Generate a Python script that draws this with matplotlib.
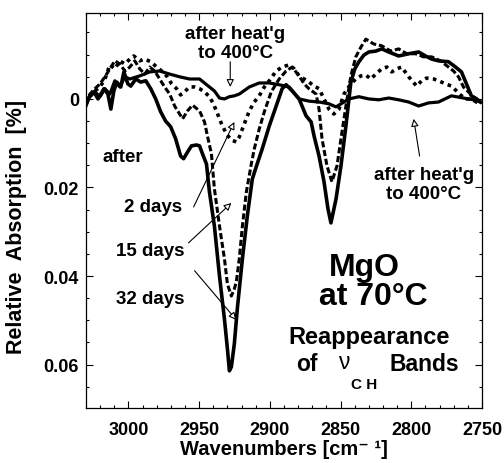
import matplotlib
matplotlib.use("Agg")
import matplotlib.pyplot as plt
from matplotlib.ticker import MultipleLocator
import numpy as np

plt.rcParams['font.family'] = ['Liberation Sans', 'DejaVu Sans']
plt.rcParams['font.weight'] = 'bold'

# after heating to 400 C (solid, near baseline)
wn_heat = [3030.0, 3027.2, 3023.7, 3020.1, 3016.6, 3013.1, 3009.6, 3006.1, 3002.5, 2999.0,
           2992.0, 2984.9, 2977.9, 2970.8, 2963.8, 2956.8, 2949.7, 2942.7, 2939.2, 2935.6,
           2932.1, 2928.6, 2925.1, 2921.6, 2914.5, 2907.5, 2900.4, 2893.4, 2886.3, 2879.3,
           2872.3, 2865.2, 2858.2, 2853.2, 2847.6, 2844.1, 2837.0, 2830.0, 2823.0, 2815.9,
           2808.9, 2801.8, 2794.8, 2787.8, 2780.7, 2771.6, 2763.1, 2756.1, 2751.1]
abs_heat = [0.0016, -0.0007, -0.0016, -0.0005, -0.0023, -0.0011, -0.0041, -0.0027, -0.0050, -0.0045,
            -0.0052, -0.0061, -0.0063, -0.0056, -0.0050, -0.0045, -0.0045, -0.0027, -0.0018, -0.0002,
            0.0000, -0.0005, -0.0007, -0.0011, -0.0027, -0.0036, -0.0036, -0.0032, -0.0027, 0.0000,
            0.0005, 0.0007, 0.0011, 0.0018, 0.0007, 0.0000, -0.0005, 0.0000, 0.0002, -0.0002,
            0.0002, 0.0007, 0.0016, 0.0009, 0.0007, -0.0007, -0.0002, 0.0002, 0.0007]

# 2 days (dotted)
wn_2d = [3030.0, 3027.2, 3023.7, 3020.1, 3016.6, 3013.1, 3009.6, 3006.1, 3002.5, 2999.0,
         2996.2, 2992.0, 2988.5, 2984.2, 2980.0, 2976.5, 2973.0, 2969.4, 2965.9, 2963.1,
         2960.3, 2956.8, 2953.2, 2949.7, 2946.2, 2942.7, 2939.9, 2937.8, 2934.2, 2930.7,
         2927.2, 2923.7, 2921.6, 2918.0, 2914.5, 2911.0, 2907.5, 2903.9, 2900.4, 2895.5,
         2891.3, 2886.3, 2882.8, 2879.3, 2875.8, 2872.3, 2868.7, 2865.2, 2861.7, 2858.2,
         2854.7, 2851.1, 2847.6, 2842.7, 2839.2, 2835.6, 2832.1, 2828.6, 2825.1, 2820.9,
         2817.3, 2813.8, 2810.3, 2806.8, 2801.8, 2796.2, 2792.7, 2789.2, 2784.2, 2780.7,
         2775.8, 2771.6, 2768.0, 2764.5, 2761.0, 2757.5, 2754.0, 2751.1]
abs_2d = [0.0011, -0.0005, -0.0018, -0.0027, -0.0045, -0.0077, -0.0068, -0.0086, -0.0079, -0.0090,
          -0.0097, -0.0086, -0.0090, -0.0084, -0.0072, -0.0063, -0.0052, -0.0034, -0.0023, -0.0009,
          -0.0016, -0.0027, -0.0027, -0.0023, -0.0016, -0.0005, 0.0011, 0.0027, 0.0056, 0.0079,
          0.0093, 0.0097, 0.0086, 0.0056, 0.0027, 0.0007, -0.0007, -0.0027, -0.0041, -0.0063,
          -0.0072, -0.0077, -0.0068, -0.0052, -0.0045, -0.0038, -0.0029, -0.0023, 0.0000, 0.0023,
          0.0034, 0.0023, -0.0011, -0.0034, -0.0045, -0.0052, -0.0054, -0.0045, -0.0056, -0.0068,
          -0.0072, -0.0061, -0.0068, -0.0072, -0.0050, -0.0029, -0.0041, -0.0047, -0.0045, -0.0041,
          -0.0034, -0.0029, -0.0018, -0.0007, 0.0000, 0.0000, 0.0007, 0.0007]

# 15 days (dashed)
wn_15d = [3030.0, 3027.2, 3023.7, 3020.1, 3016.6, 3013.1, 3009.6, 3006.1, 3002.5, 2999.0,
          2995.5, 2992.0, 2988.5, 2984.9, 2981.4, 2977.9, 2974.4, 2970.8, 2967.3, 2963.8,
          2961.7, 2958.2, 2954.7, 2949.7, 2946.2, 2944.1, 2941.3, 2939.2, 2935.6, 2932.1,
          2930.0, 2927.2, 2925.1, 2923.7, 2921.6, 2919.4, 2916.6, 2913.1, 2911.0, 2907.5,
          2903.9, 2899.0, 2893.4, 2888.5, 2884.2, 2879.3, 2875.8, 2872.3, 2867.3, 2865.2,
          2863.1, 2859.6, 2856.1, 2852.5, 2849.7, 2846.2, 2842.7, 2839.2, 2835.6, 2832.1,
          2826.5, 2820.9, 2814.5, 2808.9, 2803.2, 2796.9, 2791.3, 2785.6, 2779.3, 2773.7,
          2770.1, 2766.6, 2763.1, 2759.6, 2756.1, 2751.1]
abs_15d = [0.0011, -0.0011, -0.0023, -0.0034, -0.0050, -0.0068, -0.0086, -0.0079, -0.0063, -0.0072,
           -0.0086, -0.0068, -0.0056, -0.0072, -0.0063, -0.0045, -0.0027, -0.0011, 0.0016, 0.0034,
           0.0045, 0.0027, 0.0014, 0.0027, 0.0052, 0.0084, 0.0124, 0.0203, 0.0287, 0.0361,
           0.0418, 0.0445, 0.0429, 0.0413, 0.0361, 0.0287, 0.0210, 0.0147, 0.0113, 0.0068,
           0.0029, -0.0016, -0.0045, -0.0063, -0.0072, -0.0052, -0.0034, -0.0023, -0.0011, 0.0023,
           0.0090, 0.0151, 0.0187, 0.0151, 0.0090, 0.0016, -0.0052, -0.0095, -0.0117, -0.0135,
           -0.0124, -0.0120, -0.0108, -0.0113, -0.0102, -0.0102, -0.0095, -0.0095, -0.0086, -0.0072,
           -0.0063, -0.0050, -0.0027, -0.0016, -0.0005, 0.0005]

# 32 days (thick solid)
wn_32d = [3030.0, 3027.2, 3024.4, 3021.5, 3017.3, 3014.5, 3012.4, 3010.3, 3008.2, 3005.4,
          3003.2, 3000.4, 2998.3, 2994.8, 2991.3, 2987.7, 2984.2, 2980.7, 2977.2, 2973.7,
          2970.1, 2966.6, 2963.1, 2961.0, 2958.2, 2955.4, 2951.8, 2949.7, 2947.6, 2944.8,
          2942.7, 2939.2, 2935.6, 2932.1, 2930.0, 2928.6, 2927.2, 2925.1, 2923.0, 2919.4,
          2915.9, 2912.4, 2909.6, 2905.4, 2900.4, 2895.5, 2891.3, 2888.5, 2884.2, 2879.3,
          2874.4, 2870.8, 2868.7, 2865.2, 2861.7, 2858.9, 2856.8, 2853.2, 2849.7, 2846.2,
          2842.7, 2839.9, 2837.0, 2833.5, 2830.0, 2825.1, 2820.9, 2815.9, 2808.9, 2801.8,
          2794.8, 2789.9, 2785.6, 2780.7, 2773.7, 2768.7, 2764.5, 2761.0, 2757.5, 2754.0, 2751.1]
abs_32d = [0.0007, -0.0007, -0.0016, 0.0000, -0.0023, -0.0011, 0.0023, -0.0018, -0.0038, -0.0027,
           -0.0061, -0.0034, -0.0029, -0.0045, -0.0038, -0.0041, -0.0023, 0.0000, 0.0029, 0.0050,
           0.0063, 0.0090, 0.0129, 0.0135, 0.0120, 0.0106, 0.0104, 0.0106, 0.0124, 0.0147,
           0.0210, 0.0287, 0.0400, 0.0497, 0.0564, 0.0614, 0.0605, 0.0553, 0.0474, 0.0361,
           0.0264, 0.0181, 0.0153, 0.0113, 0.0061, 0.0016, -0.0023, -0.0032, -0.0018, 0.0000,
           0.0038, 0.0052, 0.0084, 0.0129, 0.0187, 0.0248, 0.0280, 0.0226, 0.0151, 0.0061,
           -0.0038, -0.0068, -0.0084, -0.0099, -0.0106, -0.0108, -0.0113, -0.0106, -0.0097, -0.0102,
           -0.0106, -0.0097, -0.0090, -0.0086, -0.0084, -0.0072, -0.0061, -0.0034, -0.0007, 0.0000, 0.0007]

fig = plt.figure(figsize=(5.04, 4.64), dpi=100)
ax = fig.add_axes([0.1706, 0.1185, 0.7857, 0.8513])

ax.plot(wn_heat, abs_heat, color="black", lw=2.3)
ax.plot(wn_2d, abs_2d, color="black", lw=2.6, linestyle=(0, (1, 1.2)), dash_capstyle='butt')
ax.plot(wn_15d, abs_15d, color="black", lw=2.2, linestyle=(0, (2.0, 0.9)), dash_capstyle='butt')
ax.plot(wn_32d, abs_32d, color="black", lw=2.6)

ax.set_xlim(3030, 2750)
ax.set_ylim(0.0698, -0.0194)
ax.set_xticks([3000, 2950, 2900, 2850, 2800, 2750])
ax.set_yticks([0, 0.02, 0.04, 0.06])
ax.set_yticklabels(["0", "0.02", "0.04", "0.06"])
ax.xaxis.set_minor_locator(MultipleLocator(10))
ax.yaxis.set_minor_locator(MultipleLocator(0.005))
ax.tick_params(which='both', direction='in', top=True, right=True, width=0.8)
ax.tick_params(which='major', length=5, labelsize=13)
ax.tick_params(which='minor', length=2.5)
ax.tick_params(axis='x', pad=9)
ax.tick_params(axis='y', pad=5)
for lab in ax.get_xticklabels() + ax.get_yticklabels():
    lab.set_fontweight('bold')
for sp in ax.spines.values():
    sp.set_linewidth(0.9)

ax.set_xlabel("Wavenumbers [cm⁻ ¹]", fontsize=14.5, fontweight='bold', labelpad=1)
ax.set_ylabel("Relative  Absorption  [%]", fontsize=15.5, fontweight='bold')
ax.yaxis.set_label_coords(-0.15, 0.46)

arrow = dict(arrowstyle='-|>', fc='white', ec='black', lw=0.8, mutation_scale=11, shrinkA=0, shrinkB=0)

ax.text(2924.5, -0.0126, "after heat'g\nto 400°C", ha='center', va='center', fontsize=13.5,
        fontweight='bold', linespacing=1.1)
ax.annotate("", xy=(2928.0, -0.0027), xytext=(2928.0, -0.0084), arrowprops=arrow)

ax.text(2791.0, 0.0192, "after heat'g\nto 400°C", ha='center', va='center', fontsize=13.5,
        fontweight='bold', linespacing=1.1)
ax.annotate("", xy=(2798.3, 0.0045), xytext=(2794.1, 0.0129), arrowprops=arrow)

ax.text(3018.5, 0.0131, "after", ha='left', va='center', fontsize=13.5, fontweight='bold')
ax.text(2961.7, 0.0244, "2 days", ha='right', va='center', fontsize=13.5, fontweight='bold')
ax.text(2960.3, 0.0343, "15 days", ha='right', va='center', fontsize=13.5, fontweight='bold')
ax.text(2960.3, 0.0451, "32 days", ha='right', va='center', fontsize=13.5, fontweight='bold')

ax.annotate("", xy=(2925.1, 0.0052), xytext=(2953.9, 0.0244), arrowprops=arrow)
ax.annotate("", xy=(2927.2, 0.0235), xytext=(2957.5, 0.0325), arrowprops=arrow)
ax.annotate("", xy=(2923.7, 0.0499), xytext=(2953.2, 0.0388), arrowprops=arrow)

ax.text(2833.5, 0.0379, "MgO", ha='center', va='center', fontsize=23, fontweight='bold')
ax.text(2826.5, 0.0445, "at 70°C", ha='center', va='center', fontsize=23, fontweight='bold')
ax.text(2830.0, 0.0537, "Reappearance", ha='center', va='center', fontsize=17, fontweight='bold')
ax.text(2873.7, 0.0598, "of", ha='center', va='center', fontsize=16.5, fontweight='bold')
ax.text(2847.6, 0.0592, "ν", ha='center', va='center', fontsize=16.5, fontweight='normal')
ax.text(2833.5, 0.0643, "C H", ha='center', va='center', fontsize=11, fontweight='bold')
ax.text(2790.6, 0.0598, "Bands", ha='center', va='center', fontsize=16.5, fontweight='bold')

fig.savefig("out.png", dpi=100)
